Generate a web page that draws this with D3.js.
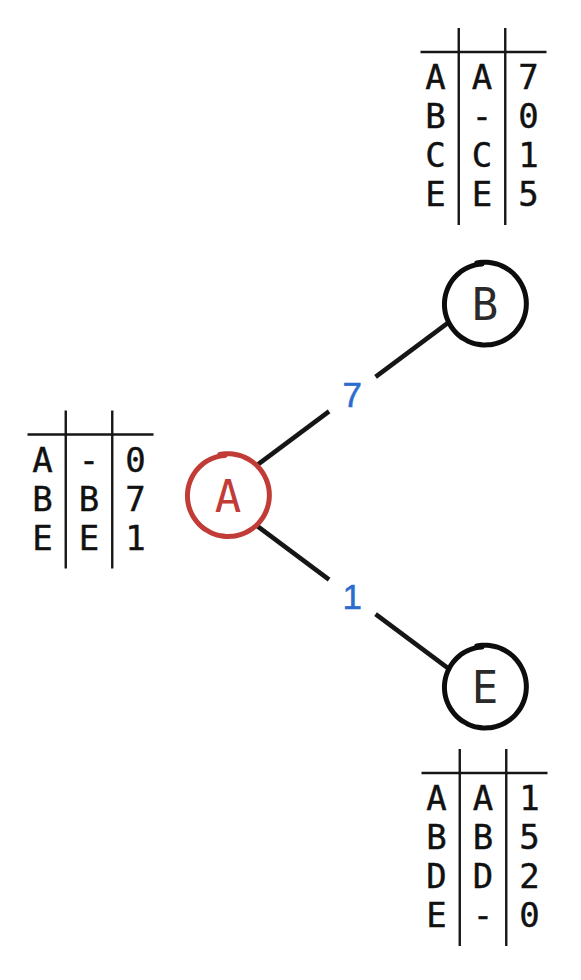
<!DOCTYPE html>
<html>
<head>
<meta charset="utf-8">
<script src="https://cdn.jsdelivr.net/npm/d3@7"></script>
<style>
  html, body { margin: 0; padding: 0; background: #fff; }
  svg { display: block; }
</style>
</head>
<body>
<svg class="vis" width="581" height="980"></svg>
<script>
// graph
const nodeNames = ['A', 'B', 'E'];
const nodeLevel = [0, 1, 1];
const nodeRow = [0.5, 0, 1];
const edgeSource = ['A', 'A'];
const edgeTarget = ['B', 'E'];
const edgeWeight = [7, 1];

// routing tables : destination / next hop / cost
const destA = ['A', 'B', 'E'];
const hopA = ['-', 'B', 'E'];
const costA = [0, 7, 1];

const destB = ['A', 'B', 'C', 'E'];
const hopB = ['A', '-', 'C', 'E'];
const costB = [7, 0, 1, 5];

const destE = ['A', 'B', 'D', 'E'];
const hopE = ['A', 'B', 'D', '-'];
const costE = [1, 5, 2, 0];

const v = {

    mono : '"DejaVu Sans Mono", "Liberation Mono", monospace',
    ink : '#161616',
    red : '#c23c37',
    blue : '#2b6cce',
    r : 41,

    x : d3.scaleLinear().domain([0, 1]).range([228, 485]),
    y : d3.scaleLinear().domain([0, 1]).range([304, 687]),

    nodes : () => nodeNames.map((n, i) => ({
        id : n,
        x : v.x(nodeLevel[i]),
        y : v.y(nodeRow[i]),
        start : i == 0
    })),

    // loop that overshoots a little at the top, like a hand drawn circle
    ring : (r) => {
        const pts = d3.range(0, 1.031, 0.02).map(t => {
            const a = -0.2 + t * 2 * Math.PI;
            const rr = r + 0.8 - 1.6 * t;
            return [a, rr];
        });
        return d3.lineRadial().curve(d3.curveCatmullRom)(pts);
    },

    draw : () => {

        const svg = d3.select('svg.vis');
        const nodes = v.nodes();
        const byId = new Map(nodes.map(d => [d.id, d]));

        // edges, pushed a little off the centre line, with a gap for the weight
        const spread = 7;
        const edges = edgeSource.map((s, i) => {
            const a = byId.get(s), b = byId.get(edgeTarget[i]);
            const dx = b.x - a.x, dy = b.y - a.y, len = Math.hypot(dx, dy);
            const ux = dx / len, uy = dy / len;
            let nx = -uy, ny = ux;
            if (Math.sign(ny) != Math.sign(uy)) { nx = -nx; ny = -ny; }
            const along = Math.sqrt((v.r + 1) ** 2 - spread ** 2);
            const x1 = a.x + ux * along + nx * spread, y1 = a.y + uy * along + ny * spread;
            const x2 = b.x - ux * along + nx * spread, y2 = b.y - uy * along + ny * spread;
            const mx = (x1 + x2) / 2, my = (y1 + y2) / 2;
            return { w : edgeWeight[i], x1, y1, x2, y2, mx, my, ux, uy };
        });

        const gap = 29;
        const eg = svg.append('g')
          .attr('stroke', v.ink)
          .attr('stroke-width', 4.6)
          .attr('stroke-linecap', 'butt');

        eg.selectAll('line.a')
          .data(edges)
          .join('line')
          .attr('x1', d => d.x1).attr('y1', d => d.y1)
          .attr('x2', d => d.mx - d.ux * gap).attr('y2', d => d.my - d.uy * gap);

        eg.selectAll('line.b')
          .data(edges)
          .join('line')
          .attr('x1', d => d.mx + d.ux * gap).attr('y1', d => d.my + d.uy * gap)
          .attr('x2', d => d.x2).attr('y2', d => d.y2);

        svg.append('g')
          .selectAll('text')
          .data(edges)
          .join('text')
          .attr('x', d => d.mx)
          .attr('y', d => d.my + 12.5)
          .attr('text-anchor', 'middle')
          .attr('font-family', '"Liberation Sans", Arial, sans-serif')
          .attr('font-size', 35)
          .attr('fill', v.blue)
          .attr('stroke', v.blue)
          .attr('stroke-width', 0.5)
          .text(d => d.w);

        // nodes
        const ng = svg.append('g')
          .selectAll('g')
          .data(nodes)
          .join('g')
          .attr('transform', d => `translate(${d.x},${d.y})`);

        ng.append('path')
          .attr('d', v.ring(v.r))
          .attr('fill', 'none')
          .attr('stroke', d => d.start ? v.red : '#0d0d0d')
          .attr('stroke-width', 5)
          .attr('stroke-linecap', 'round');

        ng.append('text')
          .attr('y', 16)
          .attr('text-anchor', 'middle')
          .attr('font-family', v.mono)
          .attr('font-size', 44)
          .attr('fill', d => d.start ? v.red : '#2a2a2a')
          .text(d => d.id);

        // routing tables
        const tables = [
            { node : 'A', side : 'left', cols : [destA, hopA, costA] },
            { node : 'B', side : 'above', cols : [destB, hopB, costB] },
            { node : 'E', side : 'below', cols : [destE, hopE, costE] }
        ];

        const colX = d3.scalePoint().domain([0, 1, 2]).range([-46.5, 46.5]);
        const rowH = 39;

        tables.forEach(t => {
            const n = byId.get(t.node);
            const nrows = t.cols[0].length;
            const tall = 25 + (nrows - 1) * rowH + 31;   // header line to bottom of rules
            let cx, hy;
            if (t.side == 'left') {
                cx = n.x - v.r - 36 - 18 - 44;
                hy = n.y - 61;
            } else if (t.side == 'above') {
                cx = n.x - 3;
                hy = n.y - v.r - 38 - tall;
            } else {
                cx = n.x - 2;
                hy = n.y + v.r + 45;
            }
            const rowY = d3.scaleLinear().domain([0, 1]).range([hy + 25, hy + 25 + rowH]);

            const g = svg.append('g')
              .attr('transform', `translate(${cx},0)`);

            g.append('line')
              .attr('x1', colX(0) - 15).attr('x2', colX(2) + 18)
              .attr('y1', hy).attr('y2', hy)
              .attr('stroke', v.ink).attr('stroke-width', 2.4);

            g.selectAll('line.v')
              .data([0.5, 1.5])
              .join('line')
              .attr('x1', d => (colX(Math.floor(d)) + colX(Math.ceil(d))) / 2)
              .attr('x2', d => (colX(Math.floor(d)) + colX(Math.ceil(d))) / 2)
              .attr('y1', hy - 24)
              .attr('y2', hy + tall)
              .attr('stroke', v.ink).attr('stroke-width', 2.4);

            t.cols.forEach((col, c) => {
                g.selectAll(null)
                  .data(col)
                  .join('text')
                  .attr('x', colX(c))
                  .attr('y', (d, i) => rowY(i) + 12.4)
                  .attr('text-anchor', 'middle')
                  .attr('font-family', v.mono)
                  .attr('font-size', 34)
                  .attr('fill', '#111')
                  .attr('stroke', '#111')
                  .attr('stroke-width', 0.4)
                  .text(d => d);
            });
        });

    }

};

v.draw();
</script>
</body>
</html>
